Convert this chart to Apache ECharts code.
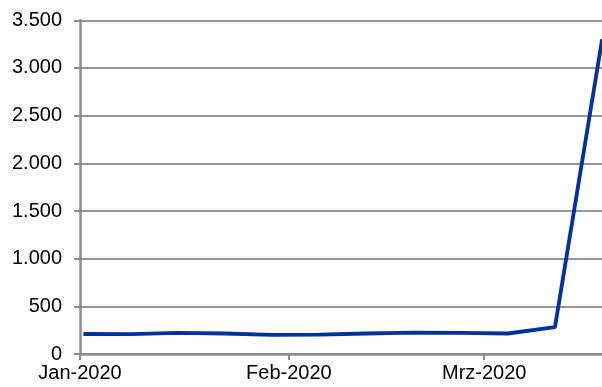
<!DOCTYPE html>
<html>
<head>
<meta charset="utf-8">
<script src="https://cdn.jsdelivr.net/npm/echarts@6/dist/echarts.min.js"></script>
<style>
  html, body { margin: 0; padding: 0; background: #fff; }
  #chart { width: 602px; height: 387px; }
</style>
</head>
<body>
<div id="chart"></div>
<script>
// Weekly reporting dates (Wednesdays) and counts
const weekDates = ['2020-01-01', '2020-01-08', '2020-01-15', '2020-01-22', '2020-01-29',
                   '2020-02-05', '2020-02-12', '2020-02-19', '2020-02-26',
                   '2020-03-04', '2020-03-11', '2020-03-18'];
const weekValues = [210, 208, 222, 215, 200, 203, 215, 225, 222, 215, 282, 3300];

// Month ticks on the date axis and their labels
const monthStarts = ['2020-01-01', '2020-02-01', '2020-03-01'];
const monthLabels = ['Jan-2020', 'Feb-2020', 'Mrz-2020'];

// Value axis ticks
const yTicks = [0, 500, 1000, 1500, 2000, 2500, 3000, 3500];

// Date axis starts on Jan 1; the visible window ends just before Mar 19
const axisStart = '2020-01-01';
const axisEndDays = 77.48;

const DAY = 24 * 3600 * 1000;
const ts = s => { const p = s.split('-').map(Number); return Date.UTC(p[0], p[1] - 1, p[2]); };
const dayNo = s => Math.round((ts(s) - ts(axisStart)) / DAY);

// each day occupies one slot; points sit in the middle of their day
const seriesData = weekDates.map((d, i) => [dayNo(d) + 0.5, weekValues[i]]);
const monthDays = monthStarts.map(dayNo);

const fmtDe = v => String(v).replace(/\B(?=(\d{3})+(?!\d))/g, '.');

const chart = echarts.init(document.getElementById('chart'), null, { renderer: 'canvas' });
chart.setOption({
  animation: false,
  grid: { left: 80, right: 0, top: 20.3, bottom: 33, containLabel: false },
  xAxis: {
    type: 'value',
    min: 0,
    max: axisEndDays,
    axisLine: { show: true, onZero: false, lineStyle: { color: '#8c8c8c', width: 2.5 } },
    axisTick: { show: true, length: 6, lineStyle: { color: '#8c8c8c', width: 2 }, customValues: monthDays },
    axisLabel: {
      show: true,
      customValues: monthDays,
      margin: 9,
      fontFamily: 'Liberation Sans, Arial, sans-serif',
      fontSize: 20,
      color: '#000',
      formatter: v => { const i = monthDays.indexOf(v); return i >= 0 ? monthLabels[i] : ''; }
    },
    splitLine: { show: false }
  },
  yAxis: {
    type: 'value',
    min: yTicks[0],
    max: yTicks[yTicks.length - 1],
    interval: 500,
    axisLine: { show: true, lineStyle: { color: '#8c8c8c', width: 2.5 } },
    axisTick: { show: true, length: 6, lineStyle: { color: '#8c8c8c', width: 2 } },
    axisLabel: {
      margin: 18,
      fontFamily: 'Liberation Sans, Arial, sans-serif',
      fontSize: 20,
      color: '#000',
      formatter: v => fmtDe(v)
    },
    splitLine: { show: true, lineStyle: { color: '#979797', width: 2 } }
  },
  series: [{
    type: 'line',
    data: seriesData,
    symbol: 'none',
    smooth: false,
    clip: false,
    lineStyle: { color: '#003399', width: 3.8 }
  }]
});
</script>
</body>
</html>
